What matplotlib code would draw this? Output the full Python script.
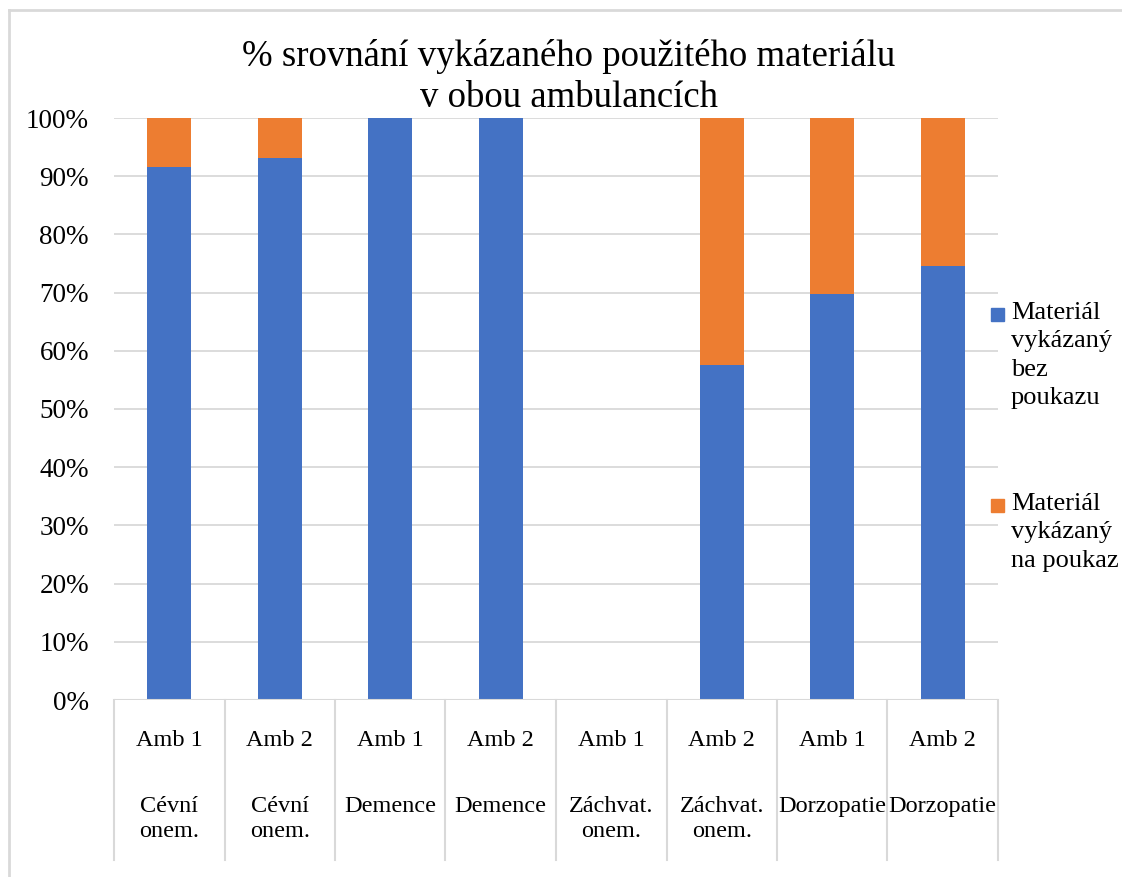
import matplotlib
matplotlib.use("Agg")
import matplotlib.pyplot as plt
from matplotlib.patches import Rectangle
from matplotlib.lines import Line2D
import numpy as np

plt.rcParams['font.family'] = ['Liberation Serif', 'DejaVu Serif']

# ---- data ----
ambulance = ["Amb 1", "Amb 2", "Amb 1", "Amb 2", "Amb 1", "Amb 2", "Amb 1", "Amb 2"]
diagnoses = ["Cévní\nonem.", "Cévní\nonem.", "Demence", "Demence",
             "Záchvat.\nonem.", "Záchvat.\nonem.", "Dorzopatie", "Dorzopatie"]
bez_poukazu = [91.5, 93.2, 100.0, 100.0, 0.0, 57.6, 69.8, 74.6]
na_poukaz = [8.5, 6.8, 0.0, 0.0, 0.0, 42.4, 30.2, 25.4]
series_names = ["Materiál\nvykázaný\nbez\npoukazu", "Materiál\nvykázaný\nna poukaz"]
yticks = [0, 10, 20, 30, 40, 50, 60, 70, 80, 90, 100]
title = "% srovnání vykázaného použitého materiálu\nv obou ambulancích"

BLUE = "#4472C4"
ORANGE = "#ED7D31"
GRID = "#D9D9D9"

W, H = 1122, 877
fig = plt.figure(figsize=(W / 100, H / 100), dpi=100)
ax = fig.add_axes([114 / W, 1 - 700 / H, (998 - 114) / W, (700 - 118) / H])

x = np.arange(len(ambulance))
ax.bar(x, bez_poukazu, width=0.4, color=BLUE, zorder=3)
ax.bar(x, na_poukaz, width=0.4, bottom=bez_poukazu, color=ORANGE, zorder=3)

ax.set_xlim(-0.5, len(ambulance) - 0.5)
ax.set_ylim(0, 100)
ax.set_yticks(yticks)
ax.set_yticklabels([f"{v}%" for v in yticks], fontsize=19.5)
ax.tick_params(axis='y', length=0, pad=18)
ax.set_xticks([])
for s in ax.spines.values():
    s.set_visible(False)
ax.grid(axis='y', color=GRID, linewidth=1.3, zorder=0)
ax.set_axisbelow(True)
ax.axhline(0, color=GRID, linewidth=1.5, zorder=4)

# category labels and dividers
trans = ax.get_xaxis_transform()
span = 700 - 118
div_bottom = -(860 - 700) / span
for i in range(len(ambulance) + 1):
    ax.add_line(Line2D([i - 0.5, i - 0.5], [0, div_bottom], transform=trans,
                       color=GRID, linewidth=1.5, clip_on=False))
for i, (a, d) in enumerate(zip(ambulance, diagnoses)):
    ax.text(i, -(741 - 700) / span, a, transform=trans, ha='center', va='center',
            fontsize=17.5)
    ax.text(i, -(796 - 700) / span, d, transform=trans, ha='center', va='top',
            fontsize=17.5, linespacing=1.25)

# title
fig.text(569 / W, 1 - 77 / H, title, ha='center', va='center', fontsize=26.5,
         linespacing=1.28)

# legend (manual)
for col, name, ytop in [(BLUE, series_names[0], 302), (ORANGE, series_names[1], 493)]:
    fig.patches.append(Rectangle((991 / W, 1 - (ytop + 19) / H), 13 / W, 13 / H,
                                 transform=fig.transFigure, color=col))
    fig.text(1011 / W, 1 - ytop / H, name, ha='left', va='top', fontsize=19,
             linespacing=1.38)

# chart frame
fig.add_artist(Line2D([9 / W, 1], [1 - 10 / H, 1 - 10 / H], color=GRID, linewidth=2,
                      transform=fig.transFigure))
fig.add_artist(Line2D([9 / W, 9 / W], [0, 1 - 10 / H], color=GRID, linewidth=2,
                      transform=fig.transFigure))

fig.savefig("out.png", dpi=100, facecolor="white")
